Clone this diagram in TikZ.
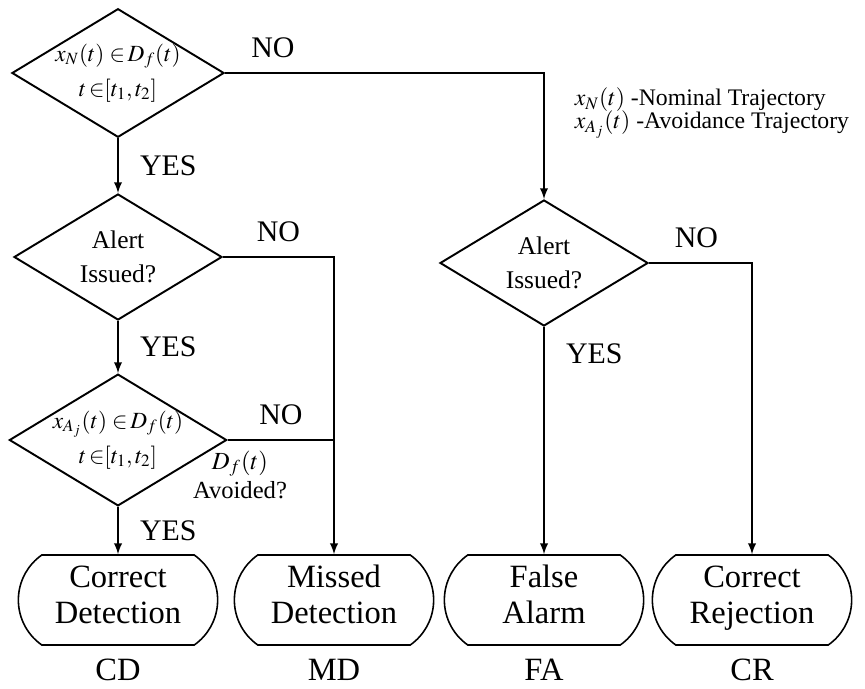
\documentclass[tikz,border=0pt]{standalone}
\usepackage{mathptmx}
\usepackage[no-math]{fontspec}
\setmainfont{Liberation Serif}
\usetikzlibrary{shapes.geometric, shapes.misc, positioning, arrows}

\begin{document}
\begin{tikzpicture}[>=latex, line width=1.1pt, node distance=3.67cm, on grid, auto]
        \tikzset{test/.style={diamond, draw, aspect=1.65, inner sep=0pt, minimum width=4.16cm, minimum height=2.52cm, align=center, font=\fontsize{14.5}{19}\selectfont}}
        \tikzset{mathtest/.style={test, inner sep=-1pt, font=\fontsize{13.2}{20}\selectfont}}
        \tikzset{outcome/.style={rounded rectangle, rounded rectangle arc length=110, draw, line width=0.9pt, minimum width=4.22cm, minimum height=1.8cm, align=center, font=\fontsize{18.5}{20.5}\selectfont, execute at begin node=\strut, execute at end node=\strut}}
        \tikzset{answer/.style={font=\fontsize{17}{19}\selectfont, inner sep=8pt}}
        \tikzset{tag/.style={font=\fontsize{18.5}{20}\selectfont}}

        \useasboundingbox (0,0) rectangle (17.3,13.76);

        \node[mathtest] (d_1) at (2.36,12.3) {$x_N\!\left(t\right)\,{\in}\,D_f\!\left(t\right)$\\$t\,{\in}\!\left[t_1,t_2\right]$};
        \node[test] (d_2) [below=3.68 of d_1] {Alert\\Issued?};
        \node[mathtest] (d_3) [below=3.66 of d_2] {$x_{A_j}\!\left(t\right)\,{\in}\,D_f\!\left(t\right)$\\$t\,{\in}\!\left[t_1,t_2\right]$};
        \node[outcome] (cd) [below=3.2 of d_3] {Correct\\Detection};
        \node[outcome] (md) [right=4.32 of cd] {Missed\\Detection};
        \node[outcome] (fa) [right=4.2 of md] {False\\Alarm};
        \node[outcome] (cr) [right=4.16 of fa] {Correct\\Rejection};
        \node[test] (d_4) [above=6.74 of fa] {Alert\\Issued?};

        \node[tag] (cd_tag) [below=1.4 of cd] {CD};
        \node[tag] (md_tag) [below=1.4 of md] {MD};
        \node[tag] (fa_tag) [below=1.4 of fa] {FA};
        \node[tag] (cr_tag) [below=1.4 of cr] {CR};

        \node[anchor=west, font=\fontsize{13.5}{16}\selectfont] (nominal) at (11.36,11.76) {$x_N(t)$ -Nominal Trajectory};
        \node[anchor=west, font=\fontsize{13.5}{16}\selectfont] (avoidance) at (11.36,11.26) {$x_{A_j}(t)$ -Avoidance Trajectory};

        \path[->]
        (d_1) edge node[answer, xshift=4pt] {YES} (d_2)
        (d_2) edge node[answer, xshift=4pt] {YES} (d_3)
        (d_3) edge node[answer, xshift=4pt] {YES} (cd)
        (d_4) edge node[answer, xshift=4pt, pos=0.12] {YES} (fa);

        \draw[->] (d_1.east) -| node[answer, pos=0.075, above] {NO} (d_4.north);
        \draw[->] (d_2.east) -| node[answer, pos=0.25, above] {NO} (md.north);
        \draw (d_3.east) -- node[answer, above] {NO} (d_3.east -| md.north);
        \draw[->] (d_4.east) -| node[answer, pos=0.23, above] {NO} (cr.north);
        \node[align=center, font=\fontsize{14}{17}\selectfont] (avoided) at (4.8,4.26) {$D_f\!\left(t\right)$\\Avoided?};
    \end{tikzpicture}
\end{document}
